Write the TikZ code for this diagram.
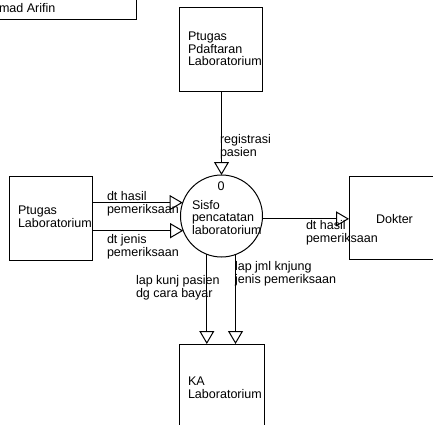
\documentclass[tikz,border=0pt]{standalone}
\usepackage{fontspec}
\setmainfont{Liberation Sans}
\usetikzlibrary{arrows.meta}
\begin{document}
\begin{tikzpicture}[x=0.75pt,y=-0.75pt,
  every node/.style={font=\fontsize{9.4}{9.4}\selectfont, inner sep=0pt, outer sep=0pt},
  entity/.style={draw, line width=0.75pt, rectangle, anchor=north west},
  lbl/.style={anchor=west, align=left},
  flow/.style={line width=0.75pt, -{Triangle[open, length=9.75pt, width=11.25pt, line width=0.75pt]}}]
\useasboundingbox (0,0) rectangle (433,425);
\clip (0,0) rectangle (433,425);
\fill[white] (0,0) rectangle (433,425);
% boxes
\node[entity, minimum width=146*0.75pt, minimum height=29*0.75pt] (nm) at (-10,-10) {};
\node[lbl] (nmt) at (-1,8) {mad Arifin};
\node[entity, minimum width=83*0.75pt, minimum height=84*0.75pt] (top) at (179,7) {};
\node[lbl] (topt) at (188,49) {Ptugas\\Pdaftaran\\Laboratorium};
\node[entity, minimum width=83*0.75pt, minimum height=84*0.75pt] (lab) at (9,176) {};
\node[lbl] (labt) at (18,217) {Ptugas\\Laboratorium};
\node[entity, minimum width=120*0.75pt, minimum height=83*0.75pt] (dok) at (349,176) {};
\node[lbl] (dokt) at (376,219) {Dokter};
\node[entity, minimum width=85*0.75pt, minimum height=100*0.75pt] (ka) at (179,344) {};
\node[lbl] (kat) at (188,388) {KA\\Laboratorium};
% process
\node[draw, circle, line width=0.75pt, minimum size=82*0.75pt] (circ) at (221.5,216) {};
\node (zero) at (221,186) {0};
\node[lbl] (circt) at (192,217.5) {Sisfo\\pencatatan\\laboratorium};
% flows
\draw[flow] (top.south -| circ.north) -- (circ.north);
\node[lbl] (l1) at (220,147) {registrasi\\pasien};
\draw[flow] (circ.161.5 -| lab.east) -- (circ.161.5);
\node[lbl] (l2) at (107,203.5) {dt hasil\\pemeriksaan};
\draw[flow] (circ.201.5 -| lab.east) -- (circ.201.5);
\node[lbl] (l3) at (107,246.5) {dt jenis\\pemeriksaan};
\draw[flow] (circ.-4) -- (circ.-4 -| dok.west);
\node[lbl] (l4) at (306,232.5) {dt hasil\\pemeriksaan};
\draw[flow] (circ.249.3) -- (circ.249.3 |- ka.north);
\node[lbl] (l5) at (136,288) {lap kunj pasien\\dg cara bayar};
\draw[flow] (circ.290.7) -- (circ.290.7 |- ka.north);
\node[lbl] (l6) at (235,274) {lap jml knjung\\jenis pemeriksaan};
\end{tikzpicture}
\end{document}
